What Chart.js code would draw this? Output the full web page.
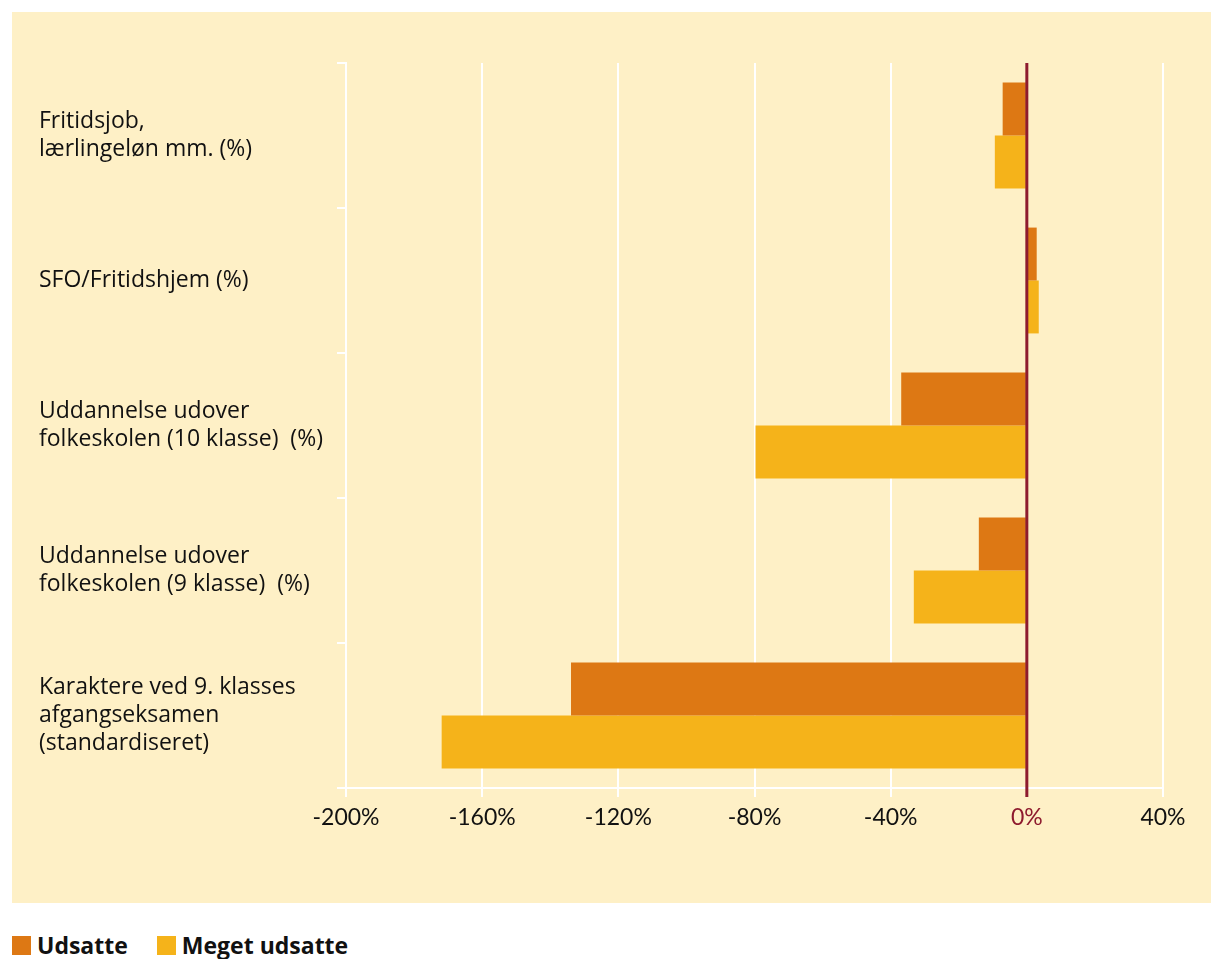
<!DOCTYPE html>
<html>
<head>
<meta charset="utf-8">
<script src="https://cdn.jsdelivr.net/npm/chart.js@4"></script>
<style>
  body { margin: 0; background: #fff; font-family: "Open Sans", sans-serif; }
  #wrap { position: relative; width: 1211px; height: 959px; }
  #legend { position: absolute; left: 12px; top: 929px; display: flex; align-items: center; font-weight: bold; font-size: 23px; color: #111; }
  #legend span.box { display: inline-block; width: 19px; height: 19px; margin-right: 6px; }
  #legend span.item { display: flex; align-items: center; margin-right: 29px; }
</style>
</head>
<body>
<div id="wrap">
  <canvas id="chart" width="1211" height="903"></canvas>
  <div id="legend"></div>
</div>
<script>
const categories = [
    ['Fritidsjob,', 'lærlingeløn mm. (%)'],
    ['SFO/Fritidshjem (%)'],
    ['Uddannelse udover', 'folkeskolen (10 klasse)  (%)'],
    ['Uddannelse udover', 'folkeskolen (9 klasse)  (%)'],
    ['Karaktere ved 9. klasses', 'afgangseksamen', '(standardiseret)']
];
const seriesNames = ['Udsatte', 'Meget udsatte'];
const udsatte = [-7.1, 2.9, -36.9, -14.1, -133.9];
const megetUdsatte = [-9.4, 3.5, -79.7, -33.2, -171.9];
const xTicks = [-200, -160, -120, -80, -40, 0, 40];

const colors = ['#DD7814', '#F5B31A'];
const panelColor = '#FEF0C6';
const zeroColor = '#8E1B2E';

// gul baggrundsflade
const panelPlugin = {
    id: 'panel',
    beforeDraw(chart) {
        const c = chart.ctx;
        c.save();
        c.fillStyle = panelColor;
        c.fillRect(12, 12, chart.width - 12, chart.height - 12);
        c.restore();
    }
};

// nul-linjen oven på søjlerne
const zeroLine = {
    id: 'zeroLine',
    afterDatasetsDraw(chart) {
        const x = chart.scales.x.getPixelForValue(0);
        const c = chart.ctx;
        c.save();
        c.strokeStyle = zeroColor;
        c.lineWidth = 3;
        c.beginPath();
        c.moveTo(x, chart.chartArea.top);
        c.lineTo(x, chart.chartArea.bottom + 9);
        c.stroke();
        c.restore();
    }
};

new Chart(document.getElementById('chart'), {
    type: 'bar',
    data: {
        labels: categories,
        datasets: [
            { label: seriesNames[0], data: udsatte, backgroundColor: colors[0] },
            { label: seriesNames[1], data: megetUdsatte, backgroundColor: colors[1] }
        ]
    },
    options: {
        indexAxis: 'y',
        responsive: false,
        animation: false,
        categoryPercentage: 0.73,
        barPercentage: 1,
        layout: { padding: { left: 39, top: 63, right: 48, bottom: 0 } },
        plugins: { legend: { display: false }, tooltip: { enabled: false } },
        scales: {
            x: {
                min: xTicks[0],
                max: xTicks[xTicks.length - 1],
                afterBuildTicks: scale => { scale.ticks = xTicks.map(v => ({ value: v })); },
                afterFit: scale => { scale.height = 115; },
                border: { display: true, color: '#ffffff', width: 2 },
                grid: {
                    color: ctx => ctx.tick && ctx.tick.value === 0 ? zeroColor : '#ffffff',
                    lineWidth: 2,
                    tickLength: 9
                },
                ticks: {
                    padding: 7,
                    font: { family: 'Lato', size: 23 },
                    color: ctx => ctx.tick && ctx.tick.value === 0 ? zeroColor : '#111111',
                    callback: v => v + '%'
                }
            },
            y: {
                afterFit: scale => { scale.width = 307; },
                border: { display: true, color: '#ffffff', width: 2 },
                grid: { drawOnChartArea: false, color: '#ffffff', lineWidth: 2, tickLength: 9 },
                ticks: {
                    crossAlign: 'far',
                    font: { family: 'Open Sans', size: 23, lineHeight: 1.2 },
                    color: '#111111'
                }
            }
        }
    },
    plugins: [panelPlugin, zeroLine]
});

const legend = document.getElementById('legend');
seriesNames.forEach((name, i) => {
    const item = document.createElement('span');
    item.className = 'item';
    item.innerHTML = '<span class="box" style="background:' + colors[i] + '"></span>' + name;
    legend.appendChild(item);
});
</script>
</body>
</html>
